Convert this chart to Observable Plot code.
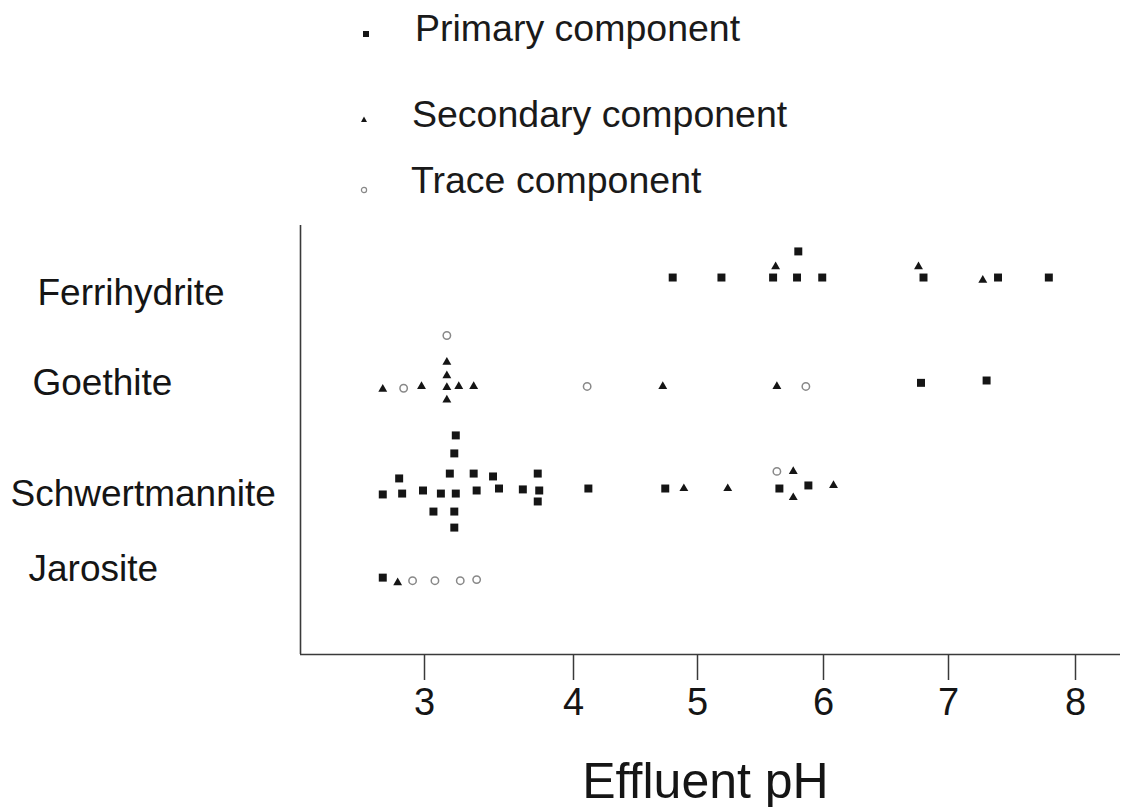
<!DOCTYPE html>
<html>
<head>
<meta charset="utf-8">
<script src="https://cdn.jsdelivr.net/npm/d3@7"></script>
<script src="https://cdn.jsdelivr.net/npm/@observablehq/plot@0.6"></script>
<style>
  html, body { margin: 0; padding: 0; background: #fff; }
  body { width: 1123px; height: 807px; overflow: hidden; font-family: "Liberation Sans", Arial, sans-serif; color: #1a1a1a; }
  #legend { position: relative; width: 1123px; height: 215px; }
  .item { position: absolute; font-size: 37.5px; line-height: 1; white-space: nowrap; }
  .sym { position: absolute; }
  #chart svg { display: block; }
</style>
</head>
<body>
<div id="legend"></div>
<div id="chart"></div>
<script>
// ---- data ----
const categories = ["Ferrihydrite", "Goethite", "Schwertmannite", "Jarosite"];
const kindNames = ["Primary component", "Secondary component", "Trace component"];
const xTicks = [3, 4, 5, 6, 7, 8];
const xLabel = "Effluent pH";

// P = primary, S = secondary, T = trace; level = stacking level (up positive)
const ferriPH    = [4.80, 5.19, 5.62, 5.60, 5.80, 5.79, 5.99, 6.76, 6.80, 7.27, 7.39, 7.79];
const ferriKind  = ["P", "P", "S", "P", "P", "P", "P", "S", "P", "S", "P", "P"];
const ferriLevel = [0, 0, 0.6, 0, 1.45, 0, 0, 0.6, 0, -0.15, 0, 0];

const goePH    = [2.72, 2.86, 2.98, 3.15, 3.15, 3.15, 3.15, 3.15, 3.23, 3.33, 4.11, 4.72, 5.63, 5.86, 6.78, 7.30];
const goeKind  = ["S", "T", "S", "T", "S", "S", "S", "S", "S", "S", "T", "S", "S", "T", "P", "P"];
const goeLevel = [-0.15, -0.1, 0, 2.83, 1.35, 0.6, -0.05, -0.75, 0, 0, 0, 0, 0, 0, 0.2, 0.33];

const schwPH    = [2.72, 2.83, 2.85, 2.99, 3.11, 3.06, 3.21, 3.20, 3.17, 3.21, 3.20, 3.20, 3.33, 3.35, 3.46, 3.50, 3.66, 3.76, 3.77, 3.76, 4.12, 4.74, 4.89, 5.24, 5.63, 5.76, 5.65, 5.76, 5.88, 6.08];
const schwKind  = ["P", "P", "P", "P", "P", "P", "P", "P", "P", "P", "P", "P", "P", "P", "P", "P", "P", "P", "P", "P", "P", "P", "S", "S", "T", "S", "P", "S", "P", "S"];
const schwLevel = [-0.22, 0.67, -0.17, 0, -0.17, -1.17, 3.06, 2.06, 0.94, -0.17, -1.17, -2.06, 0.94, 0, 0.78, 0.11, 0.06, 0.94, 0, -0.61, 0.11, 0.11, 0.11, 0.11, 1.06, 1.06, 0.11, -0.39, 0.28, 0.28];

const jaroPH    = [2.72, 2.82, 2.92, 3.07, 3.24, 3.35];
const jaroKind  = ["P", "S", "T", "T", "T", "T"];
const jaroLevel = [0.11, -0.17, -0.06, -0.06, -0.06, 0];

// ---- layout (not data) ----
const rowCenter = {Ferrihydrite: 2.89, Goethite: 8.94, Schwertmannite: 14.72, Jarosite: 19.67};
const labelBase = {Ferrihydrite: 4.44, Goethite: 9.44, Schwertmannite: 15.56, Jarosite: 19.72};
const labelLeft = {Ferrihydrite: 37, Goethite: 32, Schwertmannite: 10, Jarosite: 28};
const yMax = 23.83;
const ink = "#151515";
const axisInk = "#3a3a3a";
const traceInk = "#888";

const series = [
  ["Ferrihydrite", ferriPH, ferriKind, ferriLevel],
  ["Goethite", goePH, goeKind, goeLevel],
  ["Schwertmannite", schwPH, schwKind, schwLevel],
  ["Jarosite", jaroPH, jaroKind, jaroLevel]
];
const points = series.flatMap(([m, ph, kind, lvl]) =>
  ph.map((v, i) => ({mineral: m, pH: v, kind: kind[i], y: rowCenter[m] - lvl[i]})));

// ---- legend (HTML) ----
const legend = document.getElementById("legend");
const legendItems = [
  {kind: "P", sx: 362, sy: 30, tx: 415, ty: 10},
  {kind: "S", sx: 360, sy: 115, tx: 412, ty: 96},
  {kind: "T", sx: 360, sy: 186, tx: 411, ty: 162}
];
legendItems.forEach((it, i) => {
  const s = document.createElementNS("http://www.w3.org/2000/svg", "svg");
  s.setAttribute("width", 8); s.setAttribute("height", 8);
  s.setAttribute("class", "sym");
  s.style.left = it.sx + "px"; s.style.top = it.sy + "px";
  if (it.kind === "P") s.innerHTML = `<rect x="1" y="1" width="6" height="6" fill="${ink}"/>`;
  else if (it.kind === "S") s.innerHTML = `<path d="M4,1.5 L7,7 L1,7 Z" fill="${ink}"/>`;
  else s.innerHTML = `<circle cx="4" cy="4" r="2.6" fill="none" stroke="${traceInk}" stroke-width="1.2"/>`;
  legend.appendChild(s);
  const t = document.createElement("div");
  t.className = "item";
  t.style.left = it.tx + "px"; t.style.top = it.ty + "px";
  t.textContent = kindNames[i];
  legend.appendChild(t);
});

// ---- chart ----
const chart = Plot.plot({
  width: 1123,
  height: 592,
  marginTop: 10,
  marginBottom: 153,
  marginLeft: 300,
  marginRight: 3,
  style: {fontFamily: "Liberation Sans, Arial, sans-serif", background: "#fff", color: ink},
  x: {
    type: "linear",
    domain: [2.168, 3, 4, 5, 6, 7, 8, 8.354],
    range: [300, 424, 573, 697, 823, 948, 1075, 1120]
  },
  y: {domain: [0, yMax], reverse: true, axis: null},
  marks: [
    Plot.ruleY([yMax], {stroke: axisInk, strokeWidth: 1.6}),
    Plot.ruleX([2.168], {stroke: axisInk, strokeWidth: 1.6}),
    Plot.axisX({
      ticks: xTicks, tickFormat: d => String(d), tickSize: 26, tickPadding: 8, fontSize: 38,
      stroke: axisInk, strokeWidth: 1.5, fill: ink, label: null
    }),
    Plot.text([xLabel], {
      frameAnchor: "bottom", lineAnchor: "bottom", dy: 143,
      dx: -5, fontSize: 50, fill: ink
    }),
    ...categories.map(c => Plot.text([c], {
      frameAnchor: "left", y: () => labelBase[c], lineAnchor: "bottom",
      textAnchor: "start", dx: labelLeft[c] - 300, fontSize: 37, fill: ink
    })),
    Plot.dot(points.filter(d => d.kind === "P"), {
      x: "pH", y: "y", symbol: "square", r: 4.5, fill: ink, stroke: "none"
    }),
    Plot.dot(points.filter(d => d.kind === "S"), {
      x: "pH", y: "y", symbol: "triangle", r: 3.3, fill: ink, stroke: "none"
    }),
    Plot.dot(points.filter(d => d.kind === "T"), {
      x: "pH", y: "y", symbol: "circle", r: 3.7, fill: "none", stroke: traceInk, strokeWidth: 1.5
    })
  ]
});
document.getElementById("chart").appendChild(chart);
</script>
</body>
</html>
